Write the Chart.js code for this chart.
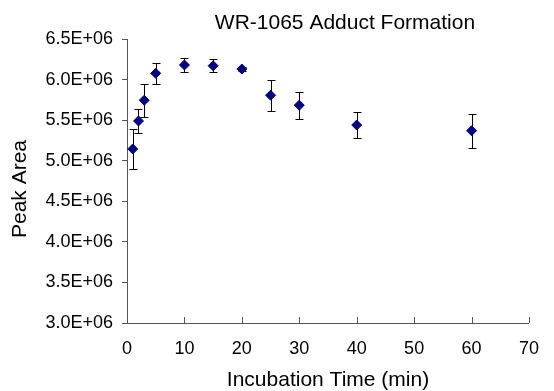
<!DOCTYPE html>
<html>
<head>
<meta charset="utf-8">
<script src="https://cdn.jsdelivr.net/npm/chart.js@4.4.1/dist/chart.umd.min.js"></script>
<style>
  html, body { margin: 0; padding: 0; background: #fff; }
  #wrap { width: 554px; height: 391px; }
</style>
</head>
<body>
<div id="wrap"><canvas id="chart" width="554" height="391"></canvas></div>
<script>
// incubation time (min) vs. peak area, with error bar half-widths
const times = [1, 2, 3, 5, 10, 15, 20, 25, 30, 40, 60]
const peakArea = [5.145e6, 5.49e6, 5.745e6, 6.077e6, 6.18e6, 6.17e6, 6.13e6, 5.807e6, 5.685e6, 5.44e6, 5.37e6]
const errors = [0.245e6, 0.145e6, 0.205e6, 0.127e6, 0.09e6, 0.08e6, 0.02e6, 0.193e6, 0.166e6, 0.155e6, 0.21e6]

const FONT = 'Liberation Sans, Arial, sans-serif'
const AXIS = '#555'

// Chart.js has no error bars, so draw them from the data through the scales
const errorBars = {
  id: 'errorBars',
  beforeDatasetsDraw(chart) {
    const { ctx, scales: { x, y } } = chart
    ctx.save()
    ctx.strokeStyle = '#000'
    ctx.lineWidth = 1
    times.forEach((t, i) => {
      const px = Math.round(x.getPixelForValue(t)) + 0.5
      const top = Math.round(y.getPixelForValue(peakArea[i] + errors[i])) + 0.5
      const bottom = Math.round(y.getPixelForValue(peakArea[i] - errors[i])) + 0.5
      ctx.beginPath()
      ctx.moveTo(px, top)
      ctx.lineTo(px, bottom)
      ctx.moveTo(px - 4, top)
      ctx.lineTo(px + 4, top)
      ctx.moveTo(px - 4, bottom)
      ctx.lineTo(px + 4, bottom)
      ctx.stroke()
    })
    // x tick marks point inwards, like the Excel original
    ctx.strokeStyle = AXIS
    ctx.beginPath()
    x.ticks.forEach(tick => {
      const px = Math.round(x.getPixelForValue(tick.value)) + 0.5
      ctx.moveTo(px, y.bottom)
      ctx.lineTo(px, y.bottom - 6)
    })
    ctx.stroke()
    ctx.restore()
  }
}

// chart title and y title sit a little off-centre in the original
const titles = {
  id: 'titles',
  afterDraw(chart) {
    const { ctx, chartArea } = chart
    ctx.save()
    ctx.fillStyle = '#000'
    ctx.textAlign = 'center'
    ctx.textBaseline = 'middle'
    ctx.font = '21px ' + FONT
    ctx.fillText('WR-1065 Adduct Formation', (chartArea.left + chartArea.right) / 2 + 17, 23)
    ctx.translate(20, (chartArea.top + chartArea.bottom) / 2 + 8)
    ctx.rotate(-Math.PI / 2)
    ctx.fillText('Peak Area', 0, 0)
    ctx.restore()
  }
}

new Chart(document.getElementById('chart').getContext('2d'), {
  type: 'scatter',
  data: {
    datasets: [
      {
        label: 'Peak Area',
        data: times.map((t, i) => ({ x: t, y: peakArea[i] })),
        pointStyle: 'rectRot',
        pointRadius: 5,
        backgroundColor: '#000080',
        borderColor: '#000080',
        borderWidth: 1,
        showLine: false
      }
    ]
  },
  options: {
    responsive: false,
    animation: false,
    layout: {
      padding: { left: 0, right: 12, top: 39, bottom: 0 }
    },
    plugins: {
      legend: { display: false },
      tooltip: { enabled: false },
      title: { display: false }
    },
    scales: {
      x: {
        type: 'linear',
        min: 0,
        max: 70,
        ticks: {
          stepSize: 10,
          color: '#000',
          padding: 15,
          font: { family: FONT, size: 18 }
        },
        grid: {
          drawOnChartArea: false,
          drawTicks: false,
          color: AXIS
        },
        border: { color: AXIS },
        title: {
          display: true,
          text: 'Incubation Time (min)',
          color: '#000',
          font: { family: FONT, size: 21, lineHeight: 1 },
          padding: 0
        },
        afterFit(scale) { scale.height = 68 }
      },
      y: {
        min: 3e6,
        max: 6.5e6,
        ticks: {
          stepSize: 5e5,
          color: '#000',
          padding: 9,
          font: { family: FONT, size: 18 },
          callback: v => (v / 1e6).toFixed(1) + 'E+06'
        },
        grid: {
          drawOnChartArea: false,
          tickLength: 5,
          color: AXIS
        },
        border: { color: AXIS },
        title: { display: false },
        afterFit(scale) { scale.width = 127 }
      }
    }
  },
  plugins: [errorBars, titles]
})
</script>
</body>
</html>
